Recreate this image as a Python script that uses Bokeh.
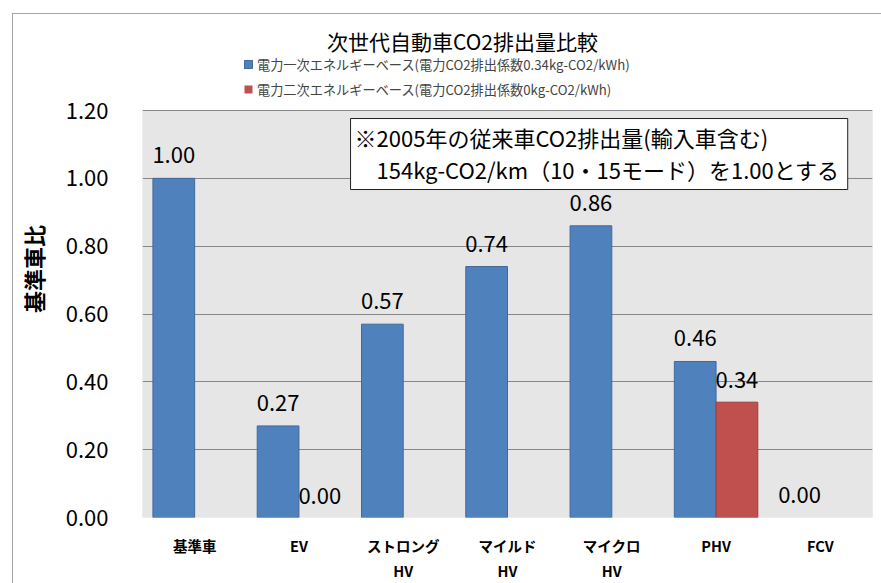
import math
from bokeh.plotting import figure
from bokeh.models import (FactorRange, Range1d, FixedTicker, NumeralTickFormatter,
                          Label, Legend, LegendItem, ColumnDataSource, BoxAnnotation,
                          InlineStyleSheet)
from bokeh.transform import dodge
from bokeh.core.properties import value
from bokeh.embed import file_html
from bokeh.resources import INLINE

nan = float("nan")

# ---- data ----
categories = ["基準車", "EV", "ストロング\nHV", "マイルド\nHV", "マイクロ\nHV", "PHV", "FCV"]
primary = [1.00, 0.27, 0.57, 0.74, 0.86, 0.46, 0.00]
secondary = [nan, 0.00, nan, nan, nan, 0.34, nan]
series_names = ["電力一次エネルギーベース(電力CO2排出係数0.34kg-CO2/kWh)",
                "電力二次エネルギーベース(電力CO2排出係数0kg-CO2/kWh)"]
y_ticks = [0.0, 0.2, 0.4, 0.6, 0.8, 1.0, 1.2]
y_min, y_max = 0.0, 1.2
title_text = "次世代自動車CO2排出量比較"
y_title = "基準車比"
note_text = "※2005年の従来車CO2排出量(輸入車含む)\n\u3000154kg-CO2/km（10・15モード）を1.00とする"

FONT = "Noto Sans CJK JP"
BLUE = "#4f81bd"
RED = "#c0504d"

src1 = ColumnDataSource(dict(x=categories, top=primary,
                             label=[f"{v:.2f}" for v in primary],
                             la=[1 if v > 0 else 0 for v in primary]))
sec_x = [c for c, v in zip(categories, secondary) if not math.isnan(v)]
sec_v = [v for v in secondary if not math.isnan(v)]
src2 = ColumnDataSource(dict(x=sec_x, top=sec_v, label=[f"{v:.2f}" for v in sec_v],
                             la=[1 if v > 0 else 0 for v in sec_v]))

# the frame also covers the title/legend band; the grey plot area is y_min..y_max
p = figure(x_range=FactorRange(*categories), y_range=Range1d(y_min, 1.4654),
           width=881, height=583, output_backend="svg", toolbar_location=None,
           min_border_left=142, min_border_right=9, min_border_top=20, min_border_bottom=66)
p.title.text = ""
p.stylesheets = [InlineStyleSheet(css=(
    ":host { position: relative; }"
    ":host::after { content: ''; position: absolute; left: 12px; top: 13px;"
    " width: calc(100% - 12px); height: calc(100% - 13px); box-sizing: border-box;"
    " border-left: 1px solid #a6a6a6; border-top: 1px solid #a6a6a6;"
    " pointer-events: none; z-index: 10; }"))]

p.background_fill_color = "white"
p.border_fill_color = "white"
p.outline_line_color = None

plot_area = BoxAnnotation(bottom=y_min, top=y_max, fill_color="#e6e6e6", fill_alpha=1,
                          line_color="#a0a0a0", line_width=1, level="image")
p.add_layout(plot_area)

r1 = p.vbar(x=dodge("x", -0.2, range=p.x_range), top="top", width=0.4, source=src1,
            fill_color=BLUE, line_color="#41699c", line_width=1, line_alpha="la")
r2 = p.vbar(x=dodge("x", 0.2, range=p.x_range), top="top", width=0.4, source=src2,
            fill_color=RED, line_color="#9b3d3a", line_width=1, line_alpha="la")

p.text(x=dodge("x", -0.2, range=p.x_range), y="top", text="label", source=src1,
       text_font=value(FONT), text_font_size="22px", text_align="center",
       text_baseline="middle", y_offset=-23, text_color="black")
p.text(x=dodge("x", 0.2, range=p.x_range), y="top", text="label", source=src2,
       text_font=value(FONT), text_font_size="22px", text_align="center",
       text_baseline="middle", y_offset=-22, text_color="black")

# axes
p.yaxis.bounds = (y_min, y_max)
p.yaxis.ticker = FixedTicker(ticks=y_ticks)
p.yaxis.formatter = NumeralTickFormatter(format="0.00")
p.yaxis.major_label_text_font = FONT
p.yaxis.major_label_text_font_size = "22px"
p.yaxis.major_label_text_color = "black"
p.yaxis.major_label_standoff = 28
p.yaxis.axis_line_color = None
p.yaxis.major_tick_line_color = None
p.yaxis.minor_tick_line_color = None
p.yaxis.axis_label = y_title
p.yaxis.axis_label_text_font = FONT
p.yaxis.axis_label_text_font_size = "22px"
p.yaxis.axis_label_text_font_style = "bold"
p.yaxis.axis_label_text_color = "black"
p.yaxis.axis_label_standoff = 14

p.xaxis.major_label_text_font = FONT
p.xaxis.major_label_text_font_size = "14.5px"
p.xaxis.major_label_text_font_style = "bold"
p.xaxis.major_label_text_color = "black"
p.xaxis.major_label_standoff = 11
p.xaxis.axis_line_color = None
p.xaxis.major_tick_line_color = None
p.xaxis.minor_tick_line_color = None

p.ygrid.ticker = FixedTicker(ticks=y_ticks)
p.ygrid.grid_line_color = "#878787"
p.xgrid.visible = False

# chart title
p.add_layout(Label(x=3.068, y=1.4064, text=title_text, text_font=FONT, text_font_size="21px",
                   text_align="center", text_baseline="middle", text_color="black"))

# note box
p.add_layout(Label(x=1.995, y=1.1764, text=note_text, text_font=FONT, text_font_size="22px",
                   text_align="left", text_baseline="top", text_color="black",
                   text_line_height=1.0,
                   background_fill_color="white", border_line_color="#202020",
                   border_line_width=1, padding=(4, 8, 2, 5)))

legend = Legend(items=[LegendItem(label=series_names[0], renderers=[r1]),
                       LegendItem(label=series_names[1], renderers=[r2])],
                location=(101, 418), orientation="vertical",
                label_text_font=FONT, label_text_font_size="13.2px",
                glyph_width=10, glyph_height=10, label_height=20, label_standoff=4,
                spacing=5, padding=0, margin=0,
                background_fill_alpha=0, border_line_alpha=0)
p.add_layout(legend, "center")

open("out.html", "w").write(file_html(p, INLINE))
